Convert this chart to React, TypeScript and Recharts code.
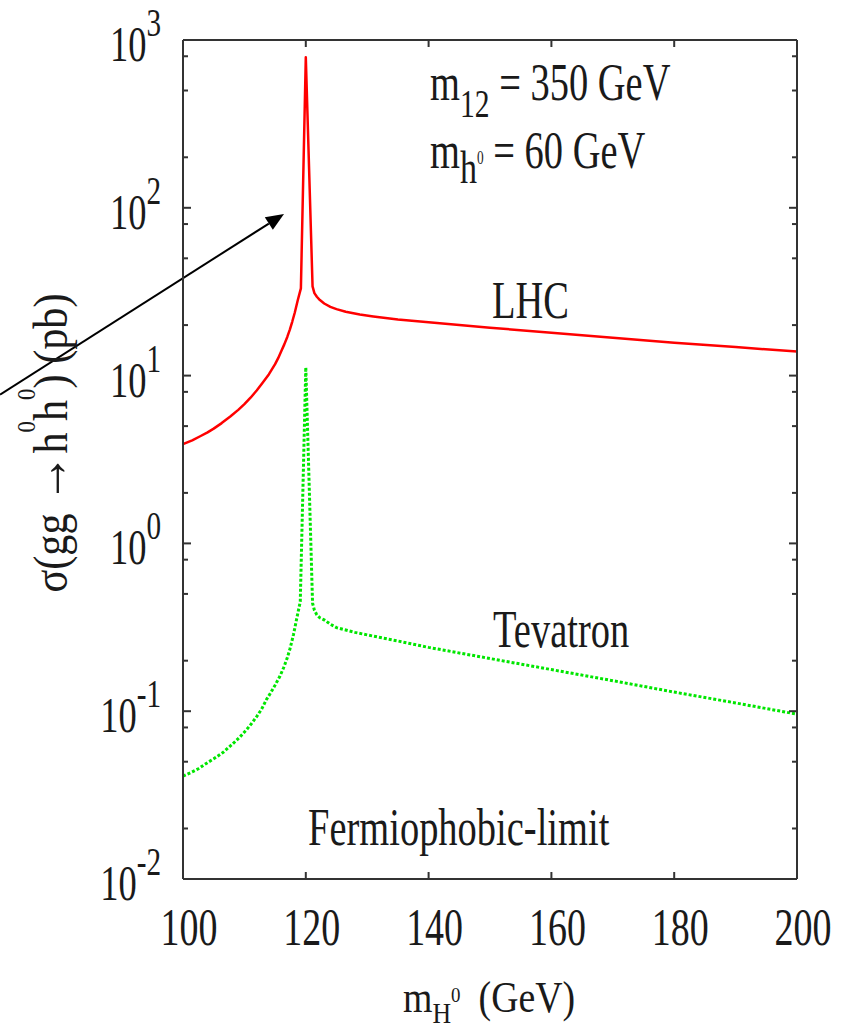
import React from 'react'
import {
  LineChart,
  Line,
  XAxis,
  YAxis,
  ReferenceLine,
} from 'recharts'

// LHC curve (red), m_H0 in GeV vs sigma in pb
const lhcMass = [100, 101.5, 102.8, 104, 105, 106.3, 107.7, 109, 110, 111, 112, 113, 114, 115, 115.5, 116, 116.5, 117, 117.4, 117.8, 118.2, 118.7, 119.2, 120, 121.1, 121.4, 121.8, 122.3, 123, 124, 125, 126.5, 128.8, 131, 135, 140, 150, 160, 170, 180, 190, 200]
const lhcSigma = [3.9, 4.11, 4.35, 4.59, 4.83, 5.21, 5.7, 6.25, 6.76, 7.38, 8.15, 9.1, 10.2, 11.7, 12.7, 13.96, 15.35, 17.06, 18.8, 21, 23.7, 28.2, 33.1, 790, 34, 31, 29.5, 28.2, 26.9, 25.7, 24.9, 24, 23.1, 22.5, 21.6, 20.8, 19.3, 18, 16.8, 15.7, 14.8, 13.9]

// Tevatron curve (green, dotted)
const tevMass = [100, 101.5, 102.5, 104, 105, 106.5, 108, 109.2, 110.4, 111.2, 112, 112.8, 113.6, 114.3, 115, 115.8, 116.4, 117, 117.4, 117.7, 118, 118.5, 118.8, 119.1, 120, 121.1, 121.4, 121.8, 122.3, 123, 124, 125, 126.5, 128, 130, 135, 140, 150, 160, 170, 180, 190, 200]
const tevSigma = [0.041, 0.0435, 0.0454, 0.0494, 0.052, 0.0567, 0.0634, 0.0698, 0.078, 0.0847, 0.0929, 0.1028, 0.1175, 0.129, 0.143, 0.162, 0.182, 0.209, 0.234, 0.258, 0.287, 0.353, 0.399, 0.45, 11.2, 0.44, 0.4, 0.375, 0.36, 0.35, 0.33, 0.315, 0.305, 0.295, 0.285, 0.262, 0.24, 0.206, 0.177, 0.152, 0.13, 0.112, 0.096]

const xTicks = [100, 120, 140, 160, 180, 200]
const yMajor = [0.01, 0.1, 1, 10, 100, 1000]
const yExponents = ['-2', '-1', '0', '1', '2', '3']
const yMinor = [0.02, 0.05, 0.08, 0.2, 0.5, 0.8, 2, 5, 8, 20, 50, 80, 200, 500, 800]
const yTicks = [...yMajor, ...yMinor].sort((a, b) => a - b)

// arrow annotation, in data units (starts left of the frame)
const arrowFrom = { x: 70.2, y: 7.7 }
const arrowTo = { x: 116.45, y: 92 }

const lhcData = lhcMass.map((x, i) => ({ x, y: lhcSigma[i] }))
const tevData = tevMass.map((x, i) => ({ x, y: tevSigma[i] }))

const FONT = 'Liberation Serif, Times New Roman, serif'
const INK = '#1a1a1a'
const FRAME = '#333'
const SX = 0.74

const Txt = ({ x, y, size = 52, sx = SX, rotate = 0, anchor = 'start', children }: any) => (
  <g transform={`translate(${x},${y}) rotate(${rotate}) scale(${sx},1)`}>
    <text fontFamily={FONT} fontSize={size} fill={INK} textAnchor={anchor}>
      {children}
    </text>
  </g>
)

const LeftTick = ({ x, y, payload }: any) => {
  const i = yMajor.indexOf(payload.value)
  const major = i >= 0
  return (
    <g>
      <line x1={x} x2={x + (major ? 8 : 5)} y1={y} y2={y} stroke={FRAME} strokeWidth={2} />
      {major && (
        <Txt x={161} y={y + 21} size={50} sx={0.73} anchor="end">
          10
          <tspan dy={-25} fontSize={40}>{yExponents[i]}</tspan>
        </Txt>
      )}
    </g>
  )
}

const RightTick = ({ x, y, payload }: any) => {
  const major = yMajor.includes(payload.value)
  return <line x1={x - (major ? 8 : 5)} x2={x} y1={y} y2={y} stroke={FRAME} strokeWidth={2} />
}

const BottomTick = ({ x, y, payload }: any) => (
  <g>
    <line x1={x} x2={x} y1={y} y2={y - 7} stroke={FRAME} strokeWidth={2} />
    <Txt x={x + 6} y={y + 66} size={52} sx={0.73} anchor="middle">
      {payload.value}
    </Txt>
  </g>
)

const TopTick = ({ x, y }: any) => (
  <line x1={x} x2={x} y1={y} y2={y + 7} stroke={FRAME} strokeWidth={2} />
)

const Arrow = ({ x1, y1, x2, y2 }: any) => {
  const a = Math.atan2(y2 - y1, x2 - x1)
  const L = 18
  const W = 7.5
  const bx = x2 - L * Math.cos(a)
  const by = y2 - L * Math.sin(a)
  const px = -Math.sin(a) * W
  const py = Math.cos(a) * W
  return (
    <g>
      <line x1={x1} y1={y1} x2={bx} y2={by} stroke="#000" strokeWidth={2} />
      <polygon points={`${x2},${y2} ${bx + px},${by + py} ${bx - px},${by - py}`} fill="#000" />
    </g>
  )
}

export default function App() {
  return (
    <div style={{ position: 'absolute', left: 0, top: 0, width: 845, height: 1028, background: '#fff' }}>
      <LineChart width={845} height={1028} margin={{ top: 0, right: 0, bottom: 0, left: 0 }}>
        <XAxis
          xAxisId="b"
          dataKey="x"
          type="number"
          domain={[100, 200]}
          ticks={xTicks}
          interval={0}
          allowDataOverflow
          height={149}
          tickSize={0}
          tickMargin={0}
          tickLine={false}
          axisLine={{ stroke: FRAME, strokeWidth: 2 }}
          tick={<BottomTick />}
        />
        <XAxis
          xAxisId="t"
          orientation="top"
          dataKey="x"
          type="number"
          domain={[100, 200]}
          ticks={xTicks}
          interval={0}
          allowDataOverflow
          height={40}
          tickSize={0}
          tickMargin={0}
          tickLine={false}
          axisLine={{ stroke: FRAME, strokeWidth: 2 }}
          tick={<TopTick />}
        />
        <YAxis
          yAxisId="l"
          scale="log"
          type="number"
          domain={[0.01, 1000]}
          ticks={yTicks}
          interval={0}
          allowDataOverflow
          width={183}
          tickSize={0}
          tickMargin={0}
          tickLine={false}
          axisLine={{ stroke: FRAME, strokeWidth: 2 }}
          tick={<LeftTick />}
        />
        <YAxis
          yAxisId="r"
          orientation="right"
          scale="log"
          type="number"
          domain={[0.01, 1000]}
          ticks={yTicks}
          interval={0}
          allowDataOverflow
          width={48}
          tickSize={0}
          tickMargin={0}
          tickLine={false}
          axisLine={{ stroke: FRAME, strokeWidth: 2 }}
          tick={<RightTick />}
        />
        <Line
          xAxisId="b"
          yAxisId="l"
          data={lhcData}
          dataKey="y"
          type="linear"
          stroke="#ff0000"
          strokeWidth={2.5}
          strokeLinejoin="round"
          dot={false}
          isAnimationActive={false}
        />
        <Line
          xAxisId="b"
          yAxisId="l"
          data={tevData}
          dataKey="y"
          type="linear"
          stroke="#00e600"
          strokeWidth={3}
          strokeDasharray="3 2"
          dot={false}
          isAnimationActive={false}
        />
        <ReferenceLine
          xAxisId="b"
          yAxisId="l"
          segment={[arrowFrom, arrowTo]}
          ifOverflow="visible"
          shape={<Arrow />}
        />
      </LineChart>
      <svg width={845} height={1028} style={{ position: 'absolute', left: 0, top: 0, pointerEvents: 'none' }}>
        <Txt x={430} y={100}>
          m<tspan dy={17} fontSize={40}>12</tspan>
          <tspan dy={-17}> = 350 GeV</tspan>
        </Txt>
        <Txt x={430} y={168}>
          m<tspan dy={15} fontSize={46}>h</tspan>
          <tspan dy={-19} fontSize={18}>0</tspan>
          <tspan dy={4}> = 60 GeV</tspan>
        </Txt>
        <Txt x={492} y={318}>LHC</Txt>
        <Txt x={493} y={647}>Tevatron</Txt>
        <Txt x={308} y={845}>Fermiophobic-limit</Txt>
        <Txt x={403} y={1012} size={44} sx={0.86}>
          m<tspan dy={11} fontSize={30}>H</tspan>
          <tspan dy={-21} fontSize={22}>0</tspan>
          <tspan dy={10} dx={10}> (GeV)</tspan>
        </Txt>
        <Txt x={67} y={443} size={48} sx={0.88} rotate={-90} anchor="middle">
          σ(gg <tspan fontSize={56}>→</tspan>h<tspan dy={-32} fontSize={26}>0</tspan>
          <tspan dy={32}>h</tspan>
          <tspan dy={-32} fontSize={26}>0</tspan>
          <tspan dy={32}>) (pb)</tspan>
        </Txt>
      </svg>
    </div>
  )
}
